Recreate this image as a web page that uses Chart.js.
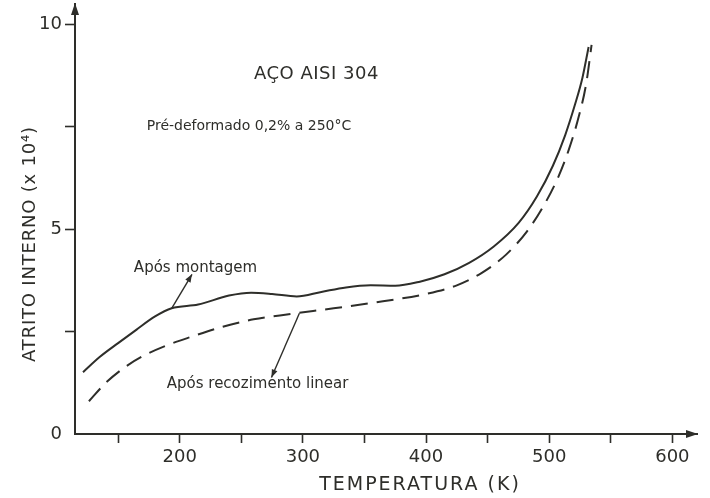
<!DOCTYPE html>
<html><head><meta charset="utf-8">
<script src="https://cdn.jsdelivr.net/npm/chart.js@4/dist/chart.umd.min.js"></script>
<style>html,body{margin:0;padding:0;background:#fff}</style>
</head><body>
<canvas id="c" width="710" height="498"></canvas>
<script>
// Curve "Após montagem" (solid)
const solidTemps  = [121.5, 135, 150, 165, 180, 193.5, 215, 240, 258, 275, 295, 315, 335, 355, 375, 395, 415, 435, 455, 475, 490, 503, 513, 521, 527, 532];
const solidValues = [1.51, 1.88, 2.22, 2.55, 2.87, 3.07, 3.16, 3.38, 3.45, 3.42, 3.36, 3.47, 3.58, 3.63, 3.62, 3.72, 3.90, 4.18, 4.58, 5.15, 5.80, 6.55, 7.30, 8.05, 8.70, 9.45];
// Curve "Após recozimento linear" (dashed)
const dashedTemps  = [126.3, 140, 155, 170, 190, 210, 235, 260, 290, 325, 365, 400, 425, 445, 465, 482, 496, 507, 516, 524, 530, 534.4];
const dashedValues = [0.80, 1.25, 1.62, 1.90, 2.17, 2.38, 2.62, 2.80, 2.93, 3.07, 3.24, 3.42, 3.63, 3.93, 4.38, 4.95, 5.60, 6.25, 6.95, 7.75, 8.55, 9.50];

const xTickValues = [150, 200, 250, 300, 350, 400, 450, 500, 550, 600];
const xTickLabels = ['', '200', '', '300', '', '400', '', '500', '', '600'];
const yTickValues = [0, 2.5, 5, 7.5, 10];
const yTickLabels = ['0', '', '5', '', '10'];

const INK = '#2e2e2a';
const FONT = '"DejaVu Sans", sans-serif';

function arrow(ctx, x1, y1, x2, y2, len, half) {
  ctx.beginPath(); ctx.moveTo(x1, y1); ctx.lineTo(x2, y2); ctx.stroke();
  const a = Math.atan2(y2 - y1, x2 - x1);
  ctx.beginPath();
  ctx.moveTo(x2, y2);
  ctx.lineTo(x2 - len * Math.cos(a) + half * Math.sin(a), y2 - len * Math.sin(a) - half * Math.cos(a));
  ctx.lineTo(x2 - len * Math.cos(a) - half * Math.sin(a), y2 - len * Math.sin(a) + half * Math.cos(a));
  ctx.closePath(); ctx.fill();
}

const decor = {
  id: 'decor',
  afterDraw(chart) {
    const ctx = chart.ctx, xs = chart.scales.x, ys = chart.scales.y, ca = chart.chartArea;
    const X = v => xs.getPixelForValue(v), Y = v => ys.getPixelForValue(v);
    ctx.save();
    ctx.fillStyle = INK; ctx.strokeStyle = INK;
    // axis arrowheads
    ctx.lineWidth = 2;
    arrow(ctx, ca.right - 10, ca.bottom, ca.right + 1, ca.bottom, 12, 4);
    arrow(ctx, ca.left, ca.top + 10, ca.left, ca.top - 1, 12, 4);
    // annotation arrows
    ctx.lineWidth = 1.4;
    arrow(ctx, X(193.5), Y(3.07), X(210), Y(3.9), 8, 3);
    arrow(ctx, X(297.2), Y(2.95), X(274.5), Y(1.38), 8, 3);
    // texts
    ctx.textBaseline = 'middle';
    ctx.textAlign = 'center';
    ctx.font = '18px ' + FONT;
    ctx.letterSpacing = '0.5px';
    ctx.fillText('AÇO AISI 304', X(311), Y(8.78));
    ctx.textAlign = 'left';
    ctx.letterSpacing = '0px';
    ctx.font = '14px ' + FONT;
    ctx.fillText('Pré-deformado 0,2% a 250°C', X(173.3), Y(7.51));
    ctx.font = '15px ' + FONT;
    ctx.fillText('Após montagem', X(162.8), Y(4.05));
    ctx.fillText('Após recozimento linear', X(189.5), Y(1.22));
    // axis titles
    ctx.textAlign = 'center';
    ctx.font = '19px ' + FONT;
    ctx.letterSpacing = '2px';
    ctx.fillText('TEMPERATURA (K)', 420, 485);
    ctx.translate(30, 244);
    ctx.rotate(-Math.PI / 2);
    ctx.font = '18px ' + FONT;
    ctx.letterSpacing = '0.8px';
    ctx.fillText('ATRITO INTERNO (x 10⁴)', 0, 0);
    ctx.restore();
  }
};

new Chart(document.getElementById('c'), {
  type: 'line',
  data: {
    datasets: [
      {
        label: 'Após montagem',
        data: solidTemps.map((t, i) => ({ x: t, y: solidValues[i] })),
        borderColor: INK, borderWidth: 2, pointRadius: 0,
        cubicInterpolationMode: 'monotone', fill: false
      },
      {
        label: 'Após recozimento linear',
        data: dashedTemps.map((t, i) => ({ x: t, y: dashedValues[i] })),
        borderColor: INK, borderWidth: 2, borderDash: [17, 9], pointRadius: 0,
        cubicInterpolationMode: 'monotone', fill: false
      }
    ]
  },
  options: {
    responsive: false, animation: false, devicePixelRatio: 1,
    layout: { padding: { top: 4, right: 13, left: 0, bottom: 0 } },
    plugins: { legend: { display: false }, tooltip: { enabled: false } },
    scales: {
      x: {
        type: 'linear', min: 115, max: 620,
        afterBuildTicks: s => { s.ticks = xTickValues.map(v => ({ value: v })); },
        afterFit: s => { s.height = 64; s.paddingLeft = 0; s.paddingRight = 0; },
        grid: { drawOnChartArea: false, drawTicks: true, tickLength: 9, tickWidth: 1.6, tickColor: INK },
        border: { display: true, color: INK, width: 2 },
        ticks: { color: INK, font: { family: FONT, size: 18 }, padding: 4, maxRotation: 0, autoSkip: false,
                 callback: (v, i) => xTickLabels[i] }
      },
      y: {
        type: 'linear', min: 0, max: 10.5,
        afterBuildTicks: s => { s.ticks = yTickValues.map(v => ({ value: v })); },
        afterFit: s => { s.width = 75; s.paddingTop = 0; s.paddingBottom = 0; },
        grid: { drawOnChartArea: false, drawTicks: true, tickLength: 10, tickWidth: 1.6,
                tickColor: c => (c.tick && c.tick.value === 0) ? 'rgba(0,0,0,0)' : INK },
        border: { display: true, color: INK, width: 2 },
        ticks: { color: INK, font: { family: FONT, size: 18 }, padding: 3, autoSkip: false,
                 callback: (v, i) => yTickLabels[i] }
      }
    }
  },
  plugins: [decor]
});
</script>
</body></html>
